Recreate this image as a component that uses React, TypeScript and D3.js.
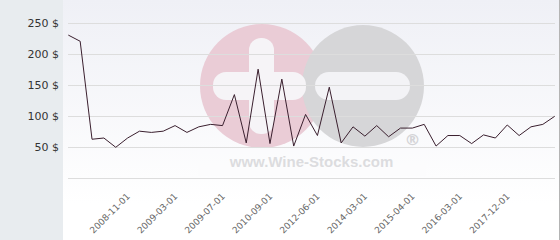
import React from "react";
import * as d3 from "d3";

const values: number[] = [
  231, 221, 63, 65, 50, 65, 76, 74, 76, 85, 74, 83, 87, 85, 135, 57, 176, 56, 160, 52,
  103, 69, 147, 57, 83, 68, 85, 67, 81, 81, 87, 52, 69, 69, 56, 70, 65, 86, 69, 83, 87, 100,
];
const tickLabels: string[] = [
  "2008-11-01", "2009-03-01", "2009-07-01", "2010-09-01", "2012-06-01",
  "2014-03-01", "2015-04-01", "2016-03-01", "2017-12-01",
];
const firstLabelIndex = 5;
const labelStep = 4;
const yTicks: number[] = [50, 100, 150, 200, 250];
const gridValues: number[] = [0, 50, 100, 150, 200, 250];

const W = 560;
const H = 240;

export default function App() {
  const x = d3.scalePoint<number>().domain(values.map((_, i) => i)).range([68.3, 554.7]);
  const y = d3.scaleLinear().domain([0, 250]).range([178.3, 23.3]);
  const line = d3
    .line<number>()
    .x((_, i) => x(i) as number)
    .y((d) => y(d));
  const font = "'DejaVu Sans', Verdana, sans-serif";

  return (
    <svg width={W} height={H} style={{ position: "absolute", left: 0, top: 0 }}>
      <defs>
        <linearGradient id="bg" x1="0" y1="0" x2="0" y2="1">
          <stop offset="0" stopColor="#eff0f6" />
          <stop offset="0.85" stopColor="#ffffff" />
          <stop offset="1" stopColor="#ffffff" />
        </linearGradient>
      </defs>
      <rect x={0} y={0} width={W} height={H} fill="#ffffff" />
      <rect x={0} y={0} width={63} height={H} fill="#e8ecef" />
      <rect x={63} y={0} width={496} height={H} fill="url(#bg)" />
      <line x1={559.5} x2={559.5} y1={0} y2={H} stroke="#b4b4b4" strokeWidth={1} />

      {/* watermark */}
      <g>
        <circle cx={262} cy={86} r={62} fill="#eaccd6" />
        <circle cx={363} cy={86} r={61} fill="#d6d6d8" />
        <rect x={249} y={38} width={25} height={96} rx={12} fill="#f6f4f7" />
        <rect x={213} y={72} width={93} height={28} rx={13} fill="#f6f4f7" />
        <rect x={315} y={72} width={95} height={28} rx={14} fill="#f3f3f6" />
        <rect x={198} y={150} width={228} height={26} fill="#fbfbfd" opacity={0.8} />
        <text x={311.5} y={167} textAnchor="middle" fontFamily="'Liberation Sans', Arial, sans-serif" fontWeight="bold" fontSize={15} fill="#dcdcdf">
          www.Wine-Stocks.com
        </text>
        <text x={412.5} y={145} textAnchor="middle" fontFamily={font} fontWeight="bold" fontSize={16} fill="#d4d4d7">
          ®
        </text>
      </g>

      {gridValues.map((v) => (
        <line key={v} x1={68} x2={555} y1={Math.round(y(v)) + 0.5} y2={Math.round(y(v)) + 0.5} stroke="#dddddd" strokeWidth={1} />
      ))}

      {yTicks.map((v) => (
        <text key={v} x={59} y={y(v) + 4} textAnchor="end" fontFamily={font} fontSize={11} fill="#333333">
          {`${v} $`}
        </text>
      ))}

      <path d={line(values) || ""} fill="none" stroke="#3a1f2e" strokeWidth={1} strokeLinejoin="round" />

      {tickLabels.map((t, k) => {
        const xi = (x(firstLabelIndex + k * labelStep) as number) + 3;
        const yi = 197;
        return (
          <text
            key={t}
            x={xi}
            y={yi}
            textAnchor="end"
            transform={`rotate(-45 ${xi} ${yi})`}
            fontFamily={font}
            fontSize={9}
            fill="#666666"
          >
            {t}
          </text>
        );
      })}
    </svg>
  );
}
